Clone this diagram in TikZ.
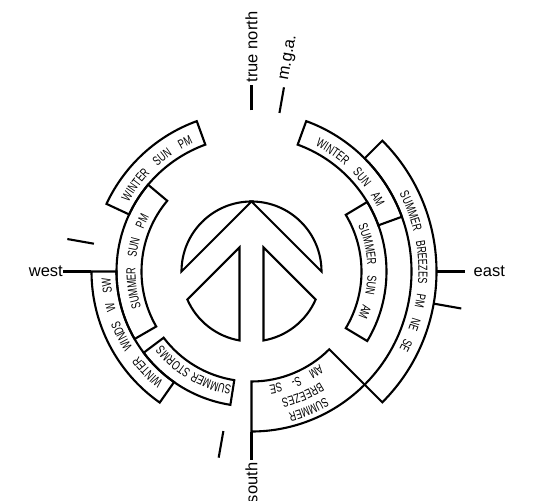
\documentclass[tikz,border=0pt]{standalone}
\usepackage{fontspec}
\setmainfont{Liberation Sans}
\newfontfamily\boxfontfam[FakeStretch=0.7,WordSpace=4]{Liberation Sans}
\newcommand\bxf{\boxfontfam\fontsize{13}{15}\selectfont}
\usetikzlibrary{decorations.text}
\tikzset{
  ln/.style={line width=2.1pt},
  lbl/.style={font=\fontsize{16.5}{19}\selectfont, inner sep=0pt},
}
\newcommand\sector[4]{%
  \draw[ln] (#1:#3pt) arc[start angle=#1,end angle=#2,radius=#3pt] -- (#2:#4pt)
    arc[start angle=#2,end angle=#1,radius=#4pt] -- cycle;}
\newcommand\arctext[3]{%
  \path[decorate,decoration={text along path,text align=center,text={|\bxf|#3}}]
    ({#1+60}:#2pt) arc[start angle={#1+60},end angle={#1-60},radius=#2pt];}
\begin{document}
\begin{tikzpicture}[x=1pt,y=1pt]
\useasboundingbox (-251.5,-228.5) rectangle (288.5,271.5);

% emblem
\coordinate (O) at (0,0);
\draw[ln] (90:70pt) arc[start angle=90,end angle=180,radius=70pt] -- cycle;
\draw[ln] (90:70pt) arc[start angle=90,end angle=0,radius=70pt] -- cycle;
\draw[ln] (-12,24.06) -- (260.13:70pt) arc[start angle=260.13,end angle=203.64,radius=70pt] -- cycle;
\draw[ln] (12,24.06) -- (-80.13:70pt) arc[start angle=-80.13,end angle=-23.64,radius=70pt] -- cycle;

% boxes
\sector{-31}{31}{110}{135}
\sector{140}{210}{110}{135}
\sector{217}{261}{110}{135}
\sector{20}{70}{135}{160}
\sector{110}{155}{135}{160}
\sector{180}{235}{135}{160}
\sector{270}{315}{110}{160}
\sector{-45}{45}{160}{185}

% box texts
\arctext{0}{116}{SUMMER SUN AM}
\arctext{175}{116}{SUMMER SUN PM}
\arctext{239.8}{116}{SUMMER{\kern3pt}STORMS}
\arctext{45}{141}{WINTER SUN AM}
\arctext{132.5}{141}{WINTER SUN PM}
\arctext{207}{141}{WINTER WINDS W SW}
\arctext{0}{167}{SUMMER BREEZES PM NE SE}
\arctext{292.5}{146}{SUMMER}
\arctext{292.5}{130.5}{BREEZES}
\arctext{292.5}{115}{AM S- SE}

% ticks
\coordinate (tn1) at (90:161pt);  \coordinate (tn2) at (90:186pt);
\coordinate (mn1) at (80:161pt);  \coordinate (mn2) at (80:187pt);
\coordinate (te1) at (0:185pt);   \coordinate (te2) at (0:213pt);
\coordinate (me1) at (-10:185pt); \coordinate (me2) at (-10:213pt);
\coordinate (tw1) at (180:160pt); \coordinate (tw2) at (180:188.5pt);
\coordinate (mw1) at (170:160pt); \coordinate (mw2) at (170:187pt);
\coordinate (ts1) at (270:160pt); \coordinate (ts2) at (270:188pt);
\coordinate (ms1) at (260:162pt); \coordinate (ms2) at (260:189pt);
\draw[ln] (tn1) -- (tn2);
\draw[ln] (mn1) -- (mn2);
\draw[ln] (te1) -- (te2);
\draw[ln] (me1) -- (me2);
\draw[ln] (tw1) -- (tw2);
\draw[ln] (mw1) -- (mw2);
\draw[ln] (ts1) -- (ts2);
\draw[ln] (ms1) -- (ms2);

% labels
\node[lbl, rotate=90, anchor=west] (ltn) at (90:189pt) {true north};
\node[lbl, rotate=80, anchor=west] (lmga) at (80:194pt) {m.g.a.};
\node[lbl, anchor=west] (le) at (0:222pt) {east};
\node[lbl, anchor=east] (lw) at (tw2) {west};
\node[lbl, rotate=90, anchor=east] (ls) at (270:191pt) {south};
\end{tikzpicture}
\end{document}
